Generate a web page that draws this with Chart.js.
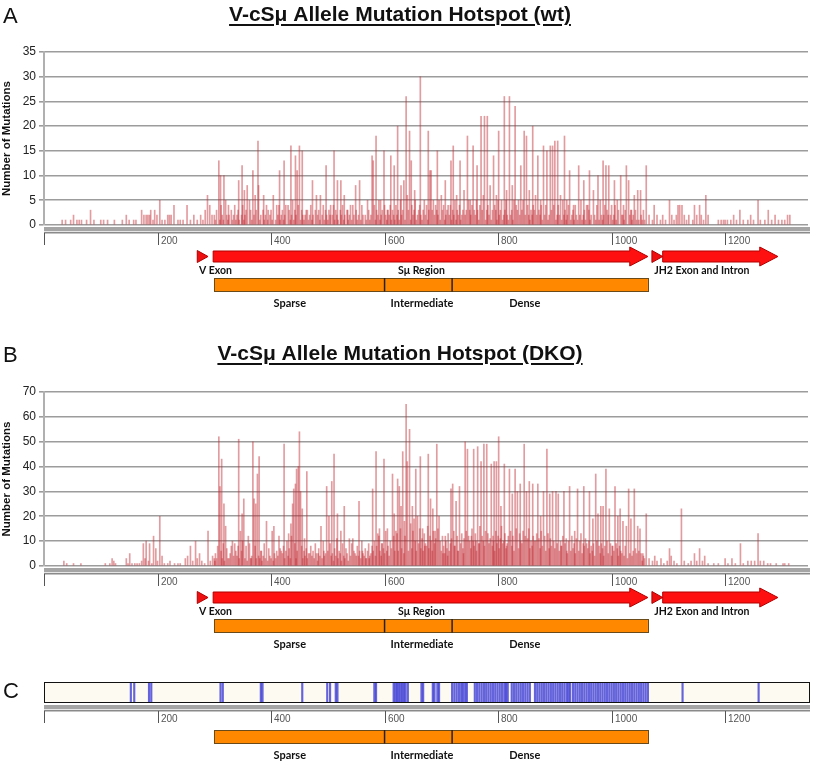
<!DOCTYPE html>
<html>
<head>
<meta charset="utf-8">
<script src="https://cdn.jsdelivr.net/npm/chart.js@4.4.1/dist/chart.umd.min.js"></script>
<style>
body{margin:0;background:#fff;}
#wrap{position:relative;width:814px;height:762px;overflow:hidden;}
canvas{position:absolute;left:0;}
.letter{position:absolute;left:3px;font:22px "Liberation Sans",Arial,sans-serif;line-height:22px;color:#111;}
.title{position:absolute;left:0;width:800px;text-align:center;font:bold 21px "Liberation Sans",Arial,sans-serif;line-height:21px;text-decoration:underline;text-underline-offset:3px;text-decoration-thickness:2px;color:#111;}
</style>
</head>
<body>
<div id="wrap">
<canvas id="ca" width="814" height="310" style="top:0px"></canvas>
<canvas id="cb" width="814" height="322" style="top:330px"></canvas>
<canvas id="cc" width="814" height="110" style="top:652px"></canvas>
<div class="letter" style="top:5px">A</div>
<div class="title" style="top:3px">V-cSμ Allele Mutation Hotspot (wt)</div>
<div class="letter" style="top:344px">B</div>
<div class="title" style="top:342px">V-cSμ Allele Mutation Hotspot (DKO)</div>
<div class="letter" style="top:680px">C</div>
</div>
<script>
// ---------- DATA ----------
const rulerTicks = [0, 200, 400, 600, 800, 1000, 1200];
const xMax = 1346;

// Panel A (wt): prominent bars [position, mutations]
const aPeaks = [[32,1],[38,1],[47,1],[52,2],[58,1],[62,1],[66,1],[75,1],[82,3],[88,1],[100,1],[105,1],[112,1],[124,1],[138,1],[145,2],[150,1],[158,1],[162,1],[172,3],[176,2],[180,2],[183,2],[186,2],[188,3],[192,1],[195,3],[199,2],[204,5],[208,1],[213,1],[218,2],[221,2],[224,2],[229,4],[236,1],[240,1],[245,1],[252,4],[258,1],[264,2],[270,1],[276,2],[280,1],[284,3],[288,6],[292,4],[296,2],
[308,13],[311,10],[317,10],[320,5],[325,4],[330,3],[343,9],[349,12],[353,7],[358,8],[362,5],[368,11],[372,6],[377,17],[378,8],[387,6],[395,3],[404,6],[410,4],[415,11],[423,13],[430,4],[435,16],[443,14],[446,11],[450,16],[455,15],[462,3],[473,9],[480,6],[487,6],[497,12],[505,4],[511,15],[517,9],[523,9],[529,6],[535,3],[540,4],[549,8],[556,9],[560,4],[570,5],[578,14],[580,13],[585,18],[593,5],[599,15],[605,3],[611,14],[617,12],[623,20],[629,8],[634,9],[638,26],[644,19],[647,13],[653,7],[663,30],[670,5],[677,19],[680,11],[682,11],[686,5],[693,15],[700,6],[707,9],[712,4],[717,13],[721,16],[727,6],[733,13],[740,7],[746,18],[751,5],[756,16],[763,12],[770,22],[776,22],[781,22],[786,8],[792,14],[797,6],[801,19],[806,5],[811,26],[815,7],[820,26],[825,8],[830,24],[836,5],[840,12],[846,19],[850,18],[855,7],[861,20],[866,6],[870,14],[875,5],[880,16],[886,15],[892,16],[896,16],[900,17],[905,17],[910,6],[917,18],[921,5],[926,11],[933,4],[942,12],[946,5],[951,9],[956,4],[961,11],[968,7],[976,10],[980,5],[985,13],[990,12],[995,12],[1000,4],[1005,9],[1010,5],[1016,10],[1021,4],[1026,12],[1030,9],[1035,3],[1040,6],[1046,7],[1051,7],[1056,3],[1061,12],
[1066,2],[1072,1],[1075,4],[1080,2],[1086,1],[1090,2],[1095,1],[1102,5],[1106,2],[1110,1],[1114,2],[1117,4],[1120,4],[1124,4],[1128,2],[1132,1],[1136,2],[1143,1],[1146,4],[1150,2],[1155,4],[1158,2],[1162,1],[1166,6],[1170,2],[1188,1],[1193,1],[1197,1],[1200,1],[1204,1],[1210,1],[1215,2],[1220,1],[1226,3],[1232,1],[1240,1],[1245,2],[1250,1],[1258,5],[1262,1],[1270,1],[1276,3],[1282,1],[1288,2],[1294,1],[1300,1],[1305,1],[1310,2],[1314,2]];

// Panel A low background bars, every 2 positions starting at 300
const aBgStart = 300;
const aBg = [2,1,3,0,2,1,4,2,1,0,3,2,1,2,0,3,1,2,4,1,
2,3,1,0,2,4,1,2,3,1,0,2,3,1,4,2,1,3,0,2,
1,2,0,3,1,2,4,1,0,2,3,1,2,0,1,3,2,4,1,2,
3,1,2,4,0,2,3,1,2,5,1,3,2,0,4,2,1,3,2,1,
2,0,3,1,2,4,1,2,0,3,1,2,3,1,0,2,4,1,3,2,
1,3,2,0,2,4,1,3,2,1,0,3,2,4,1,2,0,3,1,2,
3,1,4,2,0,3,1,2,4,1,3,2,0,2,1,4,3,1,2,3,
2,4,1,3,2,5,1,2,3,0,4,2,1,3,2,4,1,3,2,1,
4,2,3,1,5,2,3,4,1,2,6,3,2,1,4,2,3,5,1,2,
3,4,2,1,3,5,2,4,1,3,2,6,3,1,2,4,3,2,5,1,
2,3,4,1,2,3,0,2,4,1,3,2,5,1,3,2,4,1,2,3,
4,2,3,1,5,3,2,4,1,3,2,5,3,1,4,2,3,6,2,1,
3,4,2,5,1,3,2,4,3,1,5,2,3,4,1,2,3,5,2,1,
4,2,3,1,5,2,4,3,1,2,4,3,5,1,2,3,4,2,1,3,
2,4,3,1,2,5,3,2,4,1,3,2,4,3,1,2,5,3,2,4,
3,1,2,4,2,3,1,5,2,3,1,2,4,3,1,2,3,1,4,2,
1,3,2,4,1,2,3,1,2,4,3,1,2,0,3,2,1,4,2,1,
3,2,1,2,4,1,3,2,0,2,3,1,2,4,1,2,3,0,1,2,
2,1,3,2,0,1,2,3,1,2,0,3,1,2,1,0,2,1,3,1];

// Panel B (DKO): prominent bars [position, mutations]
const bPeaks = [[35,2],[40,1],[52,1],[65,1],[108,1],[116,1],[120,3],[123,2],[126,1],[145,3],[148,1],[151,5],[155,1],[160,1],[164,1],[168,1],[172,2],[175,9],[178,3],[180,10],[184,2],[186,9],[190,1],[193,12],[197,7],[200,2],[204,20],[208,4],[212,1],[218,1],[222,2],[230,1],[236,1],[240,1],[249,3],[253,4],[258,8],[262,2],[267,10],[270,3],[274,5],[278,2],[283,1],[289,14],[293,2],[297,4],[301,2],[304,3],
[308,52],[310,32],[313,43],[317,25],[320,16],[326,3],[332,10],[336,9],[340,3],[343,51],[346,14],[349,21],[352,27],[356,8],[360,12],[365,3],[368,50],[370,27],[373,25],[376,37],[379,44],[383,6],[388,9],[392,18],[396,4],[402,14],[405,16],[410,3],[414,12],[418,6],[423,49],[428,7],[431,13],[435,17],[438,25],[440,31],[443,33],[445,39],[448,40],[450,54],[452,30],[455,23],[459,11],[463,38],[468,5],[472,3],[478,7],[483,5],[488,16],[493,6],[498,32],[502,20],[507,34],[511,45],[517,21],[523,14],[526,9],[529,24],[534,4],[538,11],[544,11],[550,4],[555,26],[561,6],[567,3],[573,3],[579,31],[582,7],[585,46],[588,13],[591,15],[595,9],[599,43],[605,15],[610,5],[614,37],[617,21],[620,14],[623,35],[626,32],[629,24],[632,46],[635,18],[638,65],[640,42],[644,55],[646,17],[649,24],[652,19],[655,39],[658,20],[663,44],[667,15],[671,8],[677,45],[681,27],[685,23],[689,14],[692,49],[696,20],[700,4],[703,5],[707,12],[711,4],[717,31],[720,33],[723,8],[726,26],[729,6],[732,32],[736,12],[739,5],[742,50],[746,47],[750,10],[753,12],[757,47],[761,10],[764,48],[767,9],[770,42],[775,49],[778,10],[780,49],[784,9],[788,41],[791,12],[793,42],[797,42],[801,52],[805,24],[808,9],[811,41],[815,8],[820,39],[825,29],[830,39],[834,30],[839,33],[842,9],[846,49],[850,30],[855,34],[858,8],[861,33],[866,10],[870,33],[875,20],[880,30],[886,47],[891,29],[896,30],[902,30],[906,29],[911,8],[916,30],[921,6],[926,32],[930,9],[935,14],[940,31],[946,13],[951,32],[956,9],[961,30],[967,19],[972,37],[976,21],[981,24],[985,24],[990,39],[996,23],[1001,8],[1006,32],[1011,20],[1015,23],[1020,18],[1026,16],[1030,31],[1034,19],[1040,31],[1046,16],[1050,15],[1055,5],[1061,21],
[1066,3],[1072,2],[1076,4],[1080,2],[1087,3],[1092,1],[1098,2],[1102,7],[1105,4],[1110,2],[1115,1],[1123,23],[1128,2],[1135,1],[1140,2],[1146,5],[1150,2],[1155,7],[1160,2],[1164,4],[1170,1],[1180,1],[1188,1],[1200,3],[1205,1],[1212,3],[1218,1],[1227,9],[1232,1],[1240,2],[1246,2],[1252,2],[1258,13],[1262,2],[1268,2],[1275,1],[1280,1],[1290,1],[1302,1],[1305,1],[1312,1]];

// Panel B low background bars, every 2 positions starting at 300
const bBgStart = 300;
const bBg = [3,5,2,8,4,2,6,3,9,2,4,7,3,2,5,8,3,4,2,6,
4,8,3,2,6,10,4,3,7,2,5,9,3,4,6,2,8,3,5,4,
3,6,2,4,9,3,5,2,7,4,3,8,2,5,3,6,4,2,7,3,
5,8,3,6,10,4,7,3,12,5,4,9,3,6,11,4,5,8,3,6,
4,7,3,5,2,8,4,6,3,9,5,2,7,4,6,3,10,4,5,3,
6,3,9,4,5,2,7,4,11,3,6,5,2,8,4,3,7,5,2,6,
4,9,3,6,5,2,8,4,6,3,10,5,4,7,3,6,9,4,5,8,
6,10,4,8,5,12,6,4,9,7,5,14,6,8,4,10,7,5,12,6,
8,13,6,9,15,7,10,5,12,8,16,6,11,9,7,14,8,10,6,12,
9,15,7,11,6,13,9,8,16,7,12,10,6,14,9,11,7,15,8,10,
6,12,8,5,10,7,13,6,9,11,5,14,8,7,12,6,10,9,13,7,
11,8,14,6,12,9,7,15,10,8,13,6,11,9,16,7,12,10,8,14,
9,13,7,11,15,8,10,6,14,9,12,7,11,16,8,10,13,7,9,12,
10,14,8,12,6,11,15,9,7,13,10,8,14,6,12,9,11,15,7,10,
8,12,10,6,13,9,11,7,14,8,10,12,6,9,13,7,11,8,12,10,
7,11,9,13,6,10,8,12,7,9,11,5,10,8,6,12,7,9,5,11,
8,6,10,7,5,9,8,11,6,7,10,5,8,6,9,4,7,10,6,8,
5,9,7,4,8,6,10,5,7,9,4,8,6,5,9,7,4,8,6,5,
7,4,8,6,3,7,5,9,4,6,3,7,5,4,6,3,5,2,4,3];

// Panel C: hotspot positions
const cHotspots = [153,159,185,189,311,315,382,385,455,499,504,514,517,582,585,
616,619,622,625,628,631,634,637,641,665,668,685,688,693,696,
719,723,727,731,735,738,742,745,
759,763,767,771,775,779,783,787,791,795,799,803,807,811,814,817,
824,828,832,836,840,844,848,852,856,
865,869,873,877,881,885,889,893,897,901,905,909,913,917,921,924,927,
932,936,940,944,948,952,956,960,964,968,972,976,980,
984,988,992,996,1000,1004,1008,1012,1016,1020,1024,1028,1032,1036,1040,1044,1048,1052,1056,1060,1064,
1125,1259];

// Gene map features (positions)
const vExon = [270, 289];
const suRegion = [298, 1032, 1064];
const jh2Tri = [1071, 1090];
const jh2Arrow = [1090, 1261, 1293];
const regionBounds = [300, 600, 719, 1064];
const regionNames = ['Sparse', 'Intermediate', 'Dense'];
const regionLabelPos = [433, 666, 847];
const mapLabels = [['V Exon', 273, 'left'], ['Sμ Region', 665, 'center'], ['JH2 Exon and Intron', 1075, 'left']];

// ---------- BUILD ----------
function buildSeries(peaks, bg, bgStart){
  const m = new Map();
  bg.forEach((v,i)=>{ if(v>0) m.set(bgStart+2*i, v); });
  peaks.forEach(([p,v])=>{ m.set(p, Math.max(v, m.get(p)||0)); });
  return [...m.entries()].sort((a,b)=>a[0]-b[0]).map(([x,y])=>({x,y}));
}

const FONT = '"Liberation Sans", Arial, sans-serif';
const LFONT = 'Lato, "Open Sans", sans-serif';

function drawRuler(ctx, xs, b){
  const L = xs.getPixelForValue(0), R = 810;
  ctx.fillStyle = '#a5a5a5'; ctx.fillRect(L, b+2, R-L, 4);
  ctx.fillStyle = '#e6e6e6'; ctx.fillRect(L, b+6, R-L, 1);
  ctx.fillStyle = '#8a8a8a'; ctx.fillRect(L, b+7, R-L, 1.5);
  ctx.font = '10px ' + FONT; ctx.textBaseline = 'middle'; ctx.textAlign = 'left';
  rulerTicks.forEach(v=>{
    const px = Math.round(xs.getPixelForValue(v));
    ctx.fillStyle = '#555'; ctx.fillRect(px, b+8, 1, 12);
    if(v>0){ ctx.fillStyle = '#555'; ctx.fillText(String(v), px+3, b+16); }
  });
}
function arrow(ctx, xs, x0, x1, x2, yc){
  const a = xs.getPixelForValue(x0), c = xs.getPixelForValue(x1), e = xs.getPixelForValue(x2);
  ctx.beginPath();
  ctx.moveTo(a, yc-5.5); ctx.lineTo(c, yc-5.5); ctx.lineTo(c, yc-9.5); ctx.lineTo(e, yc);
  ctx.lineTo(c, yc+9.5); ctx.lineTo(c, yc+5.5); ctx.lineTo(a, yc+5.5); ctx.closePath();
  ctx.fillStyle = '#ff1010'; ctx.fill(); ctx.strokeStyle = '#b00000'; ctx.lineWidth = 1; ctx.stroke();
}
function tri(ctx, xs, x0, x1, yc){
  const a = xs.getPixelForValue(x0), c = xs.getPixelForValue(x1);
  ctx.beginPath(); ctx.moveTo(a, yc-6); ctx.lineTo(c, yc); ctx.lineTo(a, yc+6); ctx.closePath();
  ctx.fillStyle = '#ee1010'; ctx.fill(); ctx.strokeStyle = '#b00000'; ctx.lineWidth = 1; ctx.stroke();
}
function regions(ctx, xs, top){
  const px = regionBounds.map(v=>xs.getPixelForValue(v));
  ctx.fillStyle = '#ff8800'; ctx.fillRect(px[0], top, px[3]-px[0], 13);
  ctx.strokeStyle = '#6b4a1a'; ctx.lineWidth = 1;
  ctx.strokeRect(Math.round(px[0])+0.5, top+0.5, Math.round(px[3]-px[0]), 13);
  ctx.strokeStyle = '#222'; ctx.lineWidth = 1.5;
  [px[1], px[2]].forEach(p=>{ ctx.beginPath(); ctx.moveTo(p, top); ctx.lineTo(p, top+13.5); ctx.stroke(); });
  ctx.fillStyle = '#111'; ctx.font = 'bold 11px ' + LFONT; ctx.textAlign = 'center'; ctx.textBaseline = 'middle';
  regionNames.forEach((n,i)=>ctx.fillText(n, xs.getPixelForValue(regionLabelPos[i]), top+25));
}

function mapPlugin(withArrows, regionTop){
  return {
    id: 'genemap',
    afterDraw(chart){
      const ctx = chart.ctx, xs = chart.scales.x, b = chart.chartArea.bottom;
      ctx.save();
      drawRuler(ctx, xs, b);
      if(withArrows){
        const yc = b + 31.5;
        tri(ctx, xs, vExon[0], vExon[1], yc);
        arrow(ctx, xs, suRegion[0], suRegion[1], suRegion[2], yc);
        tri(ctx, xs, jh2Tri[0], jh2Tri[1], yc);
        arrow(ctx, xs, jh2Arrow[0], jh2Arrow[1], jh2Arrow[2], yc);
        ctx.fillStyle = '#111'; ctx.font = 'bold 10.5px ' + LFONT; ctx.textBaseline = 'middle';
        mapLabels.forEach(([t,p,al])=>{ ctx.textAlign = al; ctx.fillText(t, xs.getPixelForValue(p), b+45.5); });
      }
      regions(ctx, xs, b + regionTop);
      ctx.restore();
    }
  };
}

function barChart(id, data, ymax, step, padTop, padBottom){
  return new Chart(document.getElementById(id), {
    type: 'bar',
    data: { datasets: [{ data, backgroundColor: 'rgba(195,45,55,0.48)', borderWidth: 0, barThickness: 1, grouped: false }] },
    options: {
      responsive: false, animation: false, devicePixelRatio: 1,
      layout: { padding: { top: padTop, bottom: padBottom, left: 0, right: 6 } },
      plugins: { legend: { display: false }, tooltip: { enabled: false }, title: { display: false } },
      scales: {
        x: { type: 'linear', min: 0, max: xMax, offset: false, display: false },
        y: {
          min: 0, max: ymax,
          ticks: { stepSize: step, color: '#222', font: { size: 12, family: FONT }, padding: 3 },
          grid: { color: '#9c9c9c', lineWidth: 1.6, tickLength: 5, tickColor: '#9c9c9c' },
          border: { color: '#b0b0b0', width: 2 },
          title: { display: true, text: 'Number of Mutations', color: '#111', font: { size: 11.5, weight: 'bold', family: FONT }, padding: 0 },
          afterFit(scale){ scale.width = 44; }
        }
      }
    },
    plugins: [mapPlugin(true, 53)]
  });
}

barChart('ca', buildSeries(aPeaks, aBg, aBgStart), 35, 5, 52, 85);
barChart('cb', buildSeries(bPeaks, bBg, bBgStart), 70, 10, 62, 86);

// Panel C strip
const stripBg = {
  id: 'stripBg',
  beforeDatasetsDraw(chart){
    const {ctx, chartArea:a} = chart;
    ctx.save(); ctx.fillStyle = '#fdfbf1'; ctx.fillRect(a.left, a.top, 810-a.left, a.bottom-a.top); ctx.restore();
  },
  afterDatasetsDraw(chart){
    const {ctx, chartArea:a} = chart;
    ctx.save(); ctx.strokeStyle = '#111'; ctx.lineWidth = 1;
    ctx.strokeRect(Math.round(a.left)+0.5, a.top+0.5, 810-Math.round(a.left)-1, a.bottom-a.top-1); ctx.restore();
  }
};
new Chart(document.getElementById('cc'), {
  type: 'bar',
  data: { datasets: [{ data: cHotspots.map(p=>({x:p, y:1})), backgroundColor: 'rgba(40,40,210,0.72)', borderWidth: 0, barThickness: 1.5, grouped: false }] },
  options: {
    responsive: false, animation: false, devicePixelRatio: 1,
    layout: { padding: { top: 30, bottom: 59, left: 44, right: 6 } },
    plugins: { legend: { display: false }, tooltip: { enabled: false } },
    scales: {
      x: { type: 'linear', min: 0, max: xMax, offset: false, display: false },
      y: { min: 0, max: 1, display: false }
    }
  },
  plugins: [stripBg, mapPlugin(false, 27)]
});
</script>
</body>
</html>
